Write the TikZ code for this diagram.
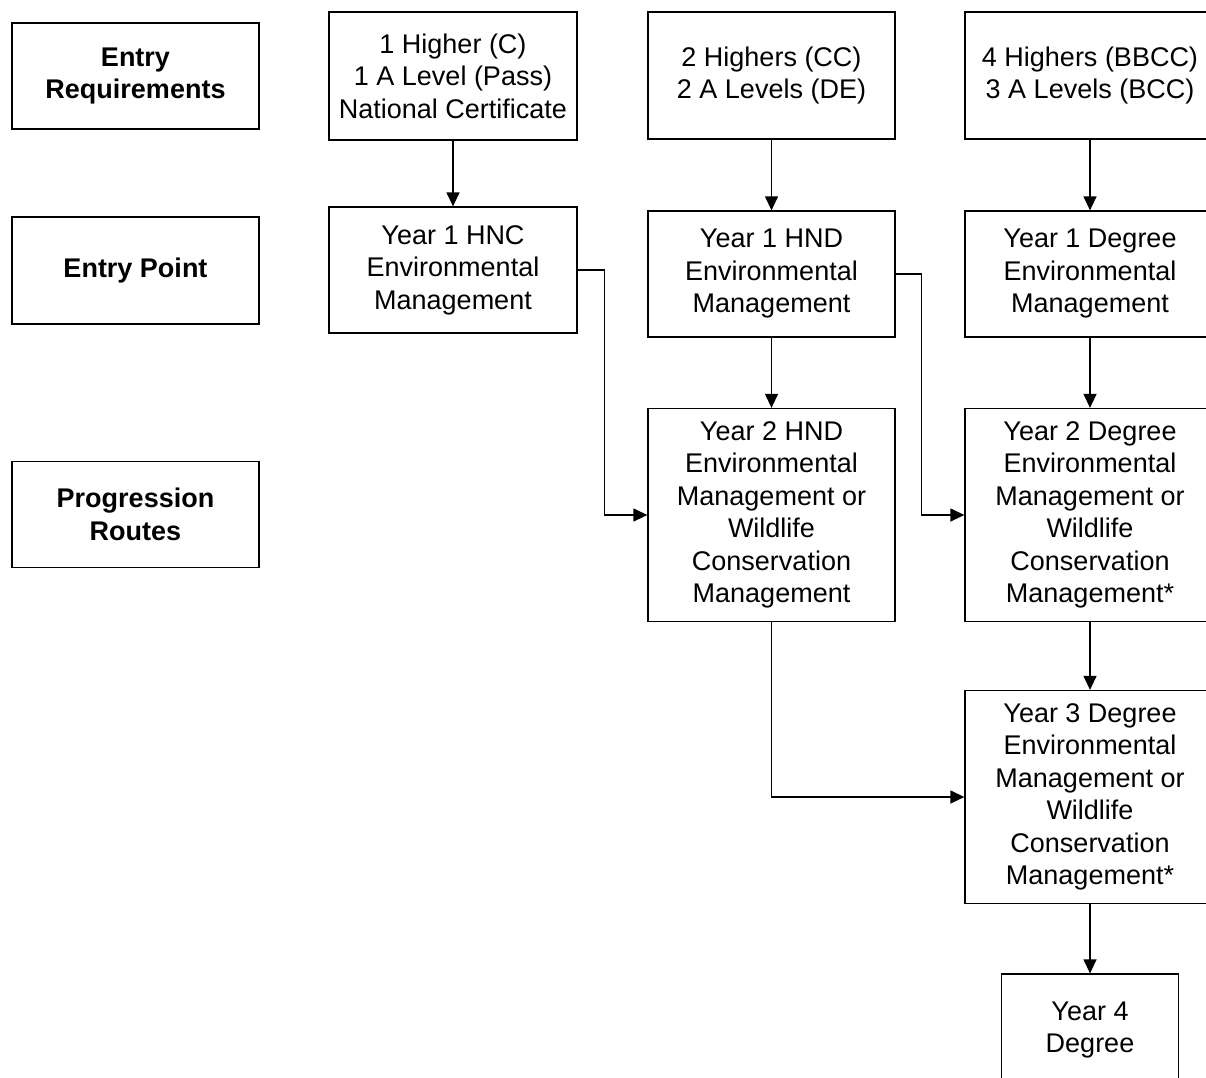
\documentclass[tikz,border=0pt]{standalone}
\usepackage{fontspec}
\setmainfont{Liberation Sans}
\usetikzlibrary{arrows.meta}
\begin{document}
\begin{tikzpicture}[x=1pt,y=-1pt,
  box/.style={draw, line width=1.3pt, rectangle, inner sep=0pt, align=center,
    font=\fontsize{27}{32.5}\selectfont},
  lab/.style={box, font=\fontsize{27}{32.5}\selectfont\bfseries, minimum width=247pt},
  arr/.style={line width=1.3pt, -{Triangle[length=14pt,width=13pt]}}]
\clip (0,0) rectangle (1206,1077);
\fill[white] (0,0) rectangle (1206,1077);
% left labels
\node[lab, minimum height=106pt] (labReq) at (135.5,76) {Entry\\Requirements};
\node[lab, minimum height=107pt] (labPoint) at (135.5,270.5) {Entry Point};
\node[lab, minimum height=106pt] (labProg) at (135.5,514.5) {Progression\\Routes};
% entry requirements
\node[box, minimum width=248pt, minimum height=128pt] (r1) at (453,76) {1 Higher (C)\\1 A Level (Pass)\\National Certificate};
\node[box, minimum width=247pt, minimum height=127pt] (r2) at (771.5,75.5) {2 Highers (CC)\\2 A Levels (DE)};
\node[box, minimum width=250pt, minimum height=127pt] (r3) at (1090,75.5) {4 Highers (BBCC)\\3 A Levels (BCC)};
% entry points
\node[box, minimum width=248pt, minimum height=126pt] (hnc) at (453,270) {Year 1 HNC\\Environmental\\Management};
\node[box, minimum width=247pt, minimum height=126pt] (hnd1) at (771.5,274) {Year 1 HND\\Environmental\\Management};
\node[box, minimum width=250pt, minimum height=126pt] (deg1) at (1090,274) {Year 1 Degree\\Environmental\\Management};
% progression
\node[box, minimum width=247pt, minimum height=213pt] (hnd2) at (771.5,515) {Year 2 HND\\Environmental\\Management or\\Wildlife\\Conservation\\Management};
\node[box, minimum width=250pt, minimum height=213pt] (deg2) at (1090,515) {Year 2 Degree\\Environmental\\Management or\\Wildlife\\Conservation\\Management*};
\node[box, minimum width=250pt, minimum height=213pt] (deg3) at (1090,797) {Year 3 Degree\\Environmental\\Management or\\Wildlife\\Conservation\\Management*};
\node[box, minimum width=177pt, minimum height=112pt] (y4) at (1090,1030) {Year 4\\Degree};
% connectors
\draw[arr] (r1) -- (hnc);
\draw[arr] (r2) -- (hnd1);
\draw[arr] (r3) -- (deg1);
\draw[arr] (hnd1) -- (hnd2);
\draw[arr] (deg1) -- (deg2);
\draw[arr] (deg2) -- (deg3);
\draw[arr] (deg3) -- (y4);
\draw[arr] (hnc.east) -- ++(27,0) |- (hnd2.west);
\draw[arr] (hnd1.east) -- ++(26,0) |- (deg2.west);
\draw[arr] (hnd2.south) |- (deg3.west);
\end{tikzpicture}
\end{document}
